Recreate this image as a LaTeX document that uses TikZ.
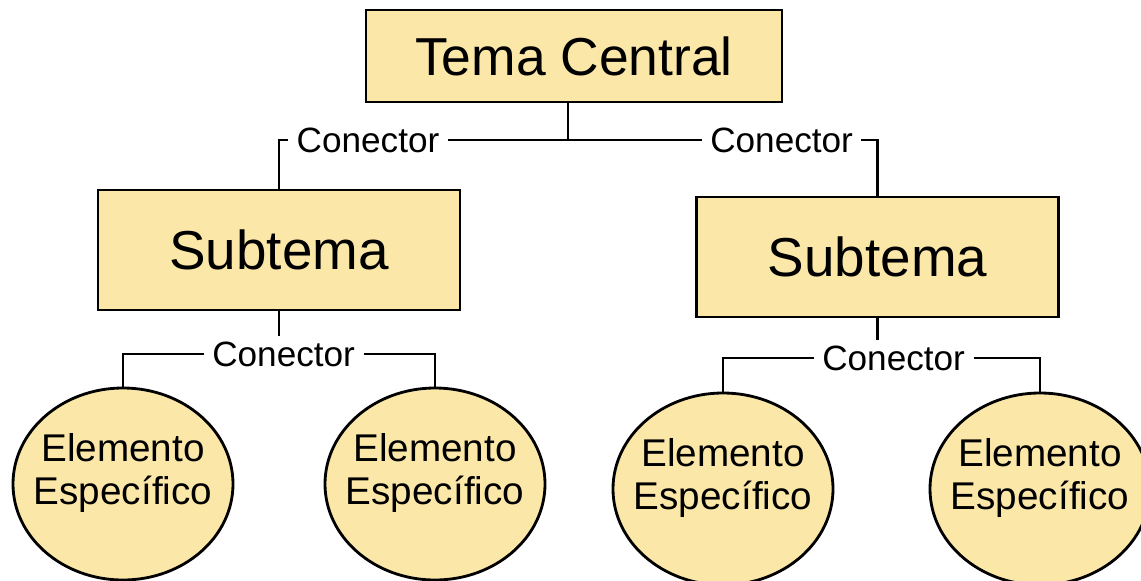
\documentclass[tikz,border=0pt]{standalone}
\usepackage{fontspec}
\setmainfont{Liberation Sans}
\usetikzlibrary{shapes.geometric}
\definecolor{temafill}{RGB}{251,232,168}
\begin{document}
\begin{tikzpicture}[
    caja/.style={draw, rectangle, fill=temafill, line width=2pt},
    elemento/.style={draw, ellipse, fill=temafill, line width=2pt, minimum width=5.5cm, minimum height=4.8cm},
    elemtexto/.style={align=center, font=\fontsize{27.5}{30}\selectfont},
    conector/.style={fill=white, inner xsep=6pt, inner ysep=4pt, font=\fontsize{25}{30}\selectfont},
    linea/.style={line width=2pt}
]
    \useasboundingbox (0,0) rectangle (28.525,-14.525);

    % Central topic
    \node[caja, minimum width=10.4cm, minimum height=2.3cm, font=\fontsize{38}{44}\selectfont] (central) at (14.35,-1.4) {Tema Central};
    \coordinate (j0) at (14.2,-3.5);

    % Subtopics
    \node[caja, minimum width=9.05cm, minimum height=3cm, font=\fontsize{39}{44}\selectfont] (sub1) at (6.975,-6.25) {Subtema};
    \node[caja, minimum width=9.05cm, minimum height=3cm, font=\fontsize{39}{44}\selectfont] (sub2) at (21.94,-6.425) {Subtema};

    % Specific elements
    \node[elemento] (el1) at (3.075,-12.1) {};
    \node[elemento] (el2) at (10.875,-12.1) {};
    \node[elemento] (el3) at (18.075,-12.225) {};
    \node[elemento] (el4) at (26.0,-12.225) {};
    \node[elemtexto] (el1t) at ([yshift=0.275cm]el1.center) {Elemento\\Específico};
    \node[elemtexto] (el2t) at ([yshift=0.275cm]el2.center) {Elemento\\Específico};
    \node[elemtexto] (el3t) at ([yshift=0.275cm]el3.center) {Elemento\\Específico};
    \node[elemtexto] (el4t) at ([yshift=0.275cm]el4.center) {Elemento\\Específico};

    % Connections, top level
    \draw[linea] (central.south -| j0) -- (j0);
    \draw[linea] (sub1.north) |- (j0);
    \draw[linea] (sub2.north) |- (j0);
    \node[conector] (con1) at (9.2,-3.5) {Conector};
    \node[conector] (con2) at (19.54,-3.5) {Conector};

    % Connections, lower level
    \node[conector] (con3) at (7.09,-8.85) {Conector};
    \node[conector] (con4) at (22.34,-8.95) {Conector};
    \draw[linea] (sub1.south) -- (sub1.south |- con3.north);
    \draw[linea] (sub2.south) -- (sub2.south |- con4.north);
    \draw[linea] (con3) -| (el1);
    \draw[linea] (con3) -| (el2);
    \draw[linea] (con4) -| (el3);
    \draw[linea] (con4) -| (el4);

\end{tikzpicture}
\end{document}
